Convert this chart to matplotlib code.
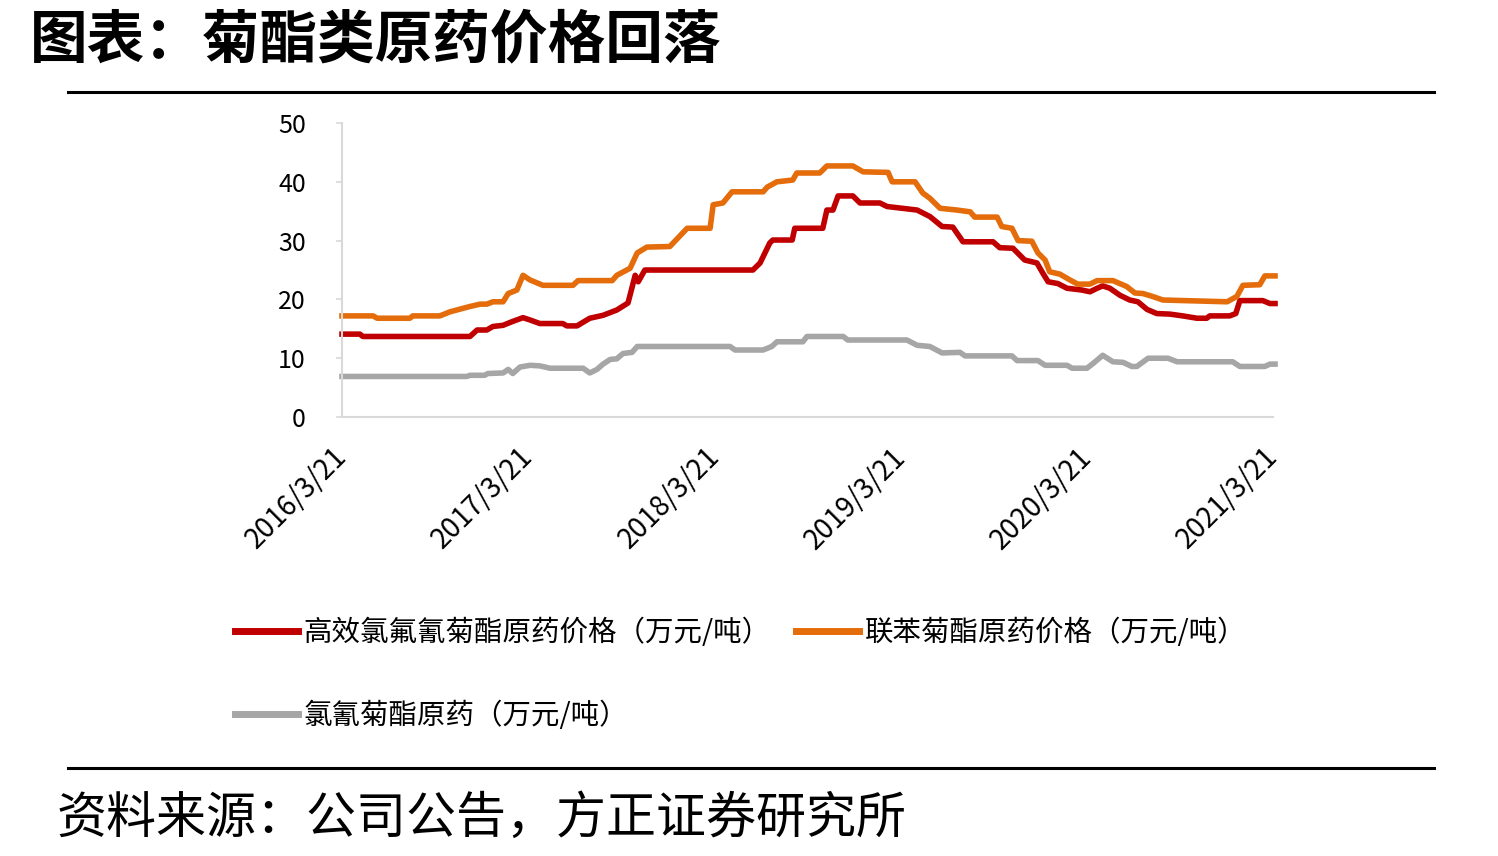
import pandas as pd
import matplotlib.pyplot as plt
import matplotlib.transforms as mtransforms
from matplotlib.lines import Line2D

plt.rcParams['font.family'] = ['Noto Sans CJK SC', 'DejaVu Sans']

# 高效氯氟氰菊酯原药价格（万元/吨）
red_dates = ['2016-03-21', '2016-04-25', '2016-05-01', '2016-11-27', '2016-12-11', '2016-12-30',
             '2017-01-11', '2017-01-31', '2017-02-17', '2017-03-11', '2017-03-25', '2017-04-13',
             '2017-05-28', '2017-06-05', '2017-06-25', '2017-07-20', '2017-08-15', '2017-09-11',
             '2017-10-03', '2017-10-17', '2017-10-23', '2017-11-05', '2018-06-05', '2018-06-19',
             '2018-07-08', '2018-07-14', '2018-08-21', '2018-08-26', '2018-10-20', '2018-10-28',
             '2018-11-09', '2018-11-19', '2018-12-18', '2019-01-01', '2019-02-09', '2019-02-23',
             '2019-04-23', '2019-05-18', '2019-06-11', '2019-07-02', '2019-07-10', '2019-07-22',
             '2019-09-19', '2019-10-02', '2019-10-28', '2019-11-20', '2019-12-14', '2019-12-26',
             '2020-01-05', '2020-01-24', '2020-02-11', '2020-03-11', '2020-03-27', '2020-04-10',
             '2020-04-21', '2020-05-05', '2020-05-25', '2020-06-13', '2020-06-29', '2020-07-17',
             '2020-08-05', '2020-08-31', '2020-09-25', '2020-10-23', '2020-11-11', '2020-11-17',
             '2020-12-26', '2021-01-07', '2021-01-15', '2021-03-01', '2021-03-15', '2021-03-25']
red_vals = [14.1, 14.1, 13.7, 13.7, 14.8, 14.8,
            15.4, 15.6, 16.2, 16.9, 16.5, 15.9,
            15.9, 15.5, 15.5, 16.8, 17.3, 18.2,
            19.4, 24.1, 23.0, 25.0, 25.0, 26.2,
            29.6, 30.1, 30.1, 32.1, 32.1, 35.2,
            35.2, 37.6, 37.6, 36.4, 36.4, 35.8,
            35.2, 34.1, 32.4, 32.3, 31.3, 29.8,
            29.8, 28.8, 28.7, 26.7, 26.2, 24.4,
            23.0, 22.7, 21.9, 21.6, 21.3, 21.9,
            22.3, 21.9, 20.7, 19.9, 19.6, 18.3,
            17.6, 17.5, 17.2, 16.8, 16.8, 17.2,
            17.2, 17.6, 19.8, 19.8, 19.3, 19.3]

# 联苯菊酯原药价格（万元/吨）
orange_dates = ['2016-03-21', '2016-05-21', '2016-05-29', '2016-08-01', '2016-08-07', '2016-09-29',
                '2016-10-19', '2016-11-27', '2016-12-17', '2016-12-30', '2017-01-11', '2017-01-31',
                '2017-02-10', '2017-02-27', '2017-03-11', '2017-03-25', '2017-04-19', '2017-06-17',
                '2017-06-27', '2017-09-02', '2017-09-11', '2017-10-07', '2017-10-21', '2017-11-09',
                '2017-12-24', '2018-01-27', '2018-03-13', '2018-03-19', '2018-04-07', '2018-04-25',
                '2018-06-25', '2018-07-03', '2018-07-22', '2018-08-22', '2018-08-30', '2018-10-14',
                '2018-10-28', '2018-12-18', '2019-01-01', '2019-01-07', '2019-02-25', '2019-03-05',
                '2019-04-19', '2019-05-04', '2019-05-18', '2019-06-07', '2019-07-10', '2019-08-05',
                '2019-08-14', '2019-09-27', '2019-10-06', '2019-10-26', '2019-11-07', '2019-12-04',
                '2019-12-16', '2019-12-30', '2020-01-08', '2020-01-28', '2020-02-17', '2020-03-03',
                '2020-03-27', '2020-04-10', '2020-05-11', '2020-06-07', '2020-06-23', '2020-07-09',
                '2020-07-28', '2020-08-17', '2020-12-21', '2021-01-09', '2021-01-21', '2021-02-23',
                '2021-03-05', '2021-03-25']
orange_vals = [17.2, 17.2, 16.8, 16.8, 17.2, 17.2,
               17.9, 18.8, 19.2, 19.2, 19.6, 19.6,
               21.0, 21.6, 24.1, 23.3, 22.4, 22.4,
               23.2, 23.2, 24.1, 25.3, 27.9, 28.9,
               29.0, 32.1, 32.1, 36.1, 36.4, 38.3,
               38.3, 39.1, 40.0, 40.3, 41.5, 41.5,
               42.7, 42.7, 42.0, 41.7, 41.6, 40.0,
               40.0, 38.1, 37.2, 35.5, 35.2, 34.9,
               34.0, 34.0, 32.4, 32.1, 30.0, 29.9,
               27.9, 26.7, 24.7, 24.3, 23.3, 22.6,
               22.6, 23.2, 23.2, 22.2, 21.1, 21.0,
               20.5, 19.9, 19.6, 20.5, 22.4, 22.5,
               24.0, 24.0]

# 氯氰菊酯原药（万元/吨）
gray_dates = ['2016-03-21', '2016-11-21', '2016-11-27', '2016-12-26', '2017-01-01', '2017-01-31',
              '2017-02-10', '2017-02-19', '2017-03-05', '2017-03-25', '2017-04-13', '2017-05-03',
              '2017-07-07', '2017-07-20', '2017-08-03', '2017-08-15', '2017-08-29', '2017-09-11',
              '2017-09-23', '2017-10-11', '2017-10-21', '2018-04-21', '2018-05-01', '2018-06-25',
              '2018-07-12', '2018-07-22', '2018-09-11', '2018-09-19', '2018-11-29', '2018-12-08',
              '2019-04-03', '2019-04-23', '2019-05-18', '2019-06-11', '2019-07-16', '2019-07-26',
              '2019-10-26', '2019-11-05', '2019-12-16', '2019-12-30', '2020-02-11', '2020-02-21',
              '2020-03-21', '2020-04-02', '2020-04-21', '2020-05-11', '2020-05-31', '2020-06-17',
              '2020-06-27', '2020-07-19', '2020-08-27', '2020-09-14', '2021-01-01', '2021-01-15',
              '2021-03-05', '2021-03-15', '2021-03-25']
gray_vals = [6.9, 6.9, 7.1, 7.1, 7.4, 7.5,
             8.1, 7.4, 8.5, 8.8, 8.7, 8.3,
             8.3, 7.5, 8.1, 9.0, 9.8, 9.9,
             10.8, 11.0, 12.0, 12.0, 11.4, 11.4,
             12.0, 12.8, 12.8, 13.7, 13.7, 13.1,
             13.1, 12.2, 12.0, 10.9, 11.0, 10.4,
             10.4, 9.6, 9.6, 8.8, 8.8, 8.3,
             8.3, 9.1, 10.5, 9.4, 9.3, 8.6,
             8.6, 10.0, 10.0, 9.4, 9.4, 8.6,
             8.6, 9.0, 9.0]

labels = ['高效氯氟氰菊酯原药价格（万元/吨）', '联苯菊酯原药价格（万元/吨）', '氯氰菊酯原药（万元/吨）']
tick_dates = ['2016-03-21', '2017-03-21', '2018-03-21', '2019-03-21', '2020-03-21', '2021-03-21']
tick_labels = ['2016/3/21', '2017/3/21', '2018/3/21', '2019/3/21', '2020/3/21', '2021/3/21']

c_red = '#C00000'
c_orange = '#E46C0A'
c_gray = '#A6A6A6'

fig = plt.figure(figsize=(14.98, 8.56), dpi=100)
ax = fig.add_axes([0.2283, 0.5128, 0.6215, 0.3435])

ax.plot(pd.to_datetime(red_dates), red_vals, color=c_red, lw=4, clip_on=False, solid_joinstyle='round')
ax.plot(pd.to_datetime(orange_dates), orange_vals, color=c_orange, lw=4, clip_on=False, solid_joinstyle='round')
ax.plot(pd.to_datetime(gray_dates), gray_vals, color=c_gray, lw=4, clip_on=False, solid_joinstyle='round')

ax.set_xlim(pd.Timestamp(tick_dates[0]), pd.Timestamp(tick_dates[-1]))
ax.set_ylim(0, 50)
ax.set_yticks(range(0, 51, 10))
ax.set_xticks(pd.to_datetime(tick_dates))
ax.set_xticklabels(tick_labels, rotation=45, ha='right', va='top', rotation_mode='anchor')

for s in ['top', 'right']:
    ax.spines[s].set_visible(False)
for s in ['left', 'bottom']:
    ax.spines[s].set_color('#D9D9D9')
    ax.spines[s].set_linewidth(1.5)
ax.tick_params(axis='y', colors='#D9D9D9', labelcolor='black', labelsize=18, length=4, width=1.2, pad=22)
ax.tick_params(axis='x', colors='#D9D9D9', labelcolor='black', labelsize=20, length=0, pad=18)

# shift rotated date labels a little to the left
shift = mtransforms.ScaledTranslation(-10 / 100, 0, fig.dpi_scale_trans)
for lab in ax.get_xticklabels():
    lab.set_transform(lab.get_transform() + shift)

handles = [Line2D([], [], color=c_red, lw=5),
           Line2D([], [], color=c_gray, lw=5),
           Line2D([], [], color=c_orange, lw=5)]
fig.legend(handles, [labels[0], labels[2], labels[1]], ncol=2, frameon=False,
           loc='upper left', bbox_to_anchor=(0.157, 0.278), fontsize=20.5,
           handlelength=2.2, handletextpad=0.2, columnspacing=0.9, labelspacing=1.85,
           borderaxespad=0, borderpad=0)

fig.text(0.02, 0.953, '图表：菊酯类原药价格回落', fontsize=41.5, fontweight='bold', ha='left', va='center')
fig.text(0.038, 0.043, '资料来源：公司公告，方正证券研究所', fontsize=36, ha='left', va='center')

fig.add_artist(Line2D([68 / 1498, 1434 / 1498], [1 - 92 / 856] * 2, color='black', lw=2.2))
fig.add_artist(Line2D([68 / 1498, 1434 / 1498], [1 - 768 / 856] * 2, color='black', lw=2.2))

fig.savefig('out.png', dpi=100)
